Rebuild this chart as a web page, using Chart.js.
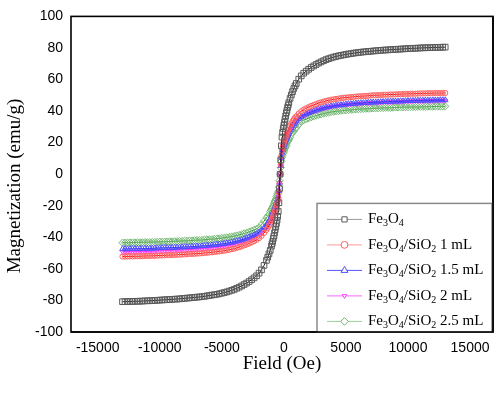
<!DOCTYPE html>
<html><head><meta charset="utf-8">
<script src="https://cdn.jsdelivr.net/npm/chart.js@4.4.1/dist/chart.umd.min.js"></script>
<style>html,body{margin:0;padding:0;background:#fff}#wrap{width:500px;height:393px;position:relative}</style>
</head><body><div id="wrap"><canvas id="c" width="500" height="393"></canvas></div>
<script>
// Applied field (Oe)
const fieldOe = [-13000,-12800,-12600,-12400,-12200,-12000,-11800,-11600,-11400,-11200,-11000,-10800,-10600,-10400,-10200,-10000,-9800,-9600,-9400,-9200,-9000,-8800,-8600,-8400,-8200,-8000,-7800,-7600,-7400,-7200,-7000,-6800,-6600,-6400,-6200,-6000,-5800,-5600,-5400,-5200,-5000,-4800,-4600,-4400,-4200,-4000,-3800,-3600,-3400,-3200,-3000,
-2800,-2600,-2400,-2200,-2000,-1800,-1600,-1400,
-1300,-1200,-1100,-1000,
-950,-900,-850,-800,-750,-700,-650,-600,-550,-500,-450,-400,-350,-300,-250,-200,-150,-100,-50,0,50,100,150,200,250,300,350,
400,500,600,700,800,900,1000,
1200,1400,1600,1800,2000,2200,2400,2600,2800,
3000,3200,3400,3600,3800,4000,4200,4400,4600,4800,5000,5200,5400,5600,5800,6000,6200,6400,6600,6800,7000,7200,7400,7600,7800,8000,8200,8400,8600,8800,9000,9200,9400,9600,9800,10000,10200,10400,10600,10800,11000,11200,11400,11600,11800,12000,12200,12400,12600,12800,13000];

// Magnetization (emu/g)
const magFe3O4 = [-80.8,-80.8,-80.7,-80.7,-80.6,-80.6,-80.5,-80.5,-80.4,-80.3,-80.2,-80.2,-80.1,-80.0,-79.9,-79.8,-79.7,-79.6,-79.5,-79.4,-79.3,-79.2,-79.1,-79.0,-78.8,-78.7,-78.5,-78.4,-78.2,-78.1,-77.9,-77.8,-77.6,-77.4,-77.1,-76.9,-76.6,-76.4,-76.1,-75.8,-75.4,-75.0,-74.6,-74.1,-73.6,-73.0,-72.3,-71.6,-70.8,-69.9,-69.0,
-68.0,-66.9,-65.7,-64.4,-62.7,-60.6,-57.8,-54.6,
-52.6,-50.5,-48.3,-45.6,
-44.1,-42.6,-40.7,-39.2,-37.2,-35.2,-33.2,-31.2,-29.2,-26.7,-23.6,-18.1,-9.1,0,9,18,23.5,26.5,29,31,33,35,37,39,40.5,42.3,43.8,
45.3,48,50.2,52.3,54.3,56,57.5,
60.2,62.3,64,65.3,66.5,67.6,68.6,69.5,70.4,
71.2,71.9,72.6,73.2,73.7,74.2,74.6,75.0,75.3,75.6,75.9,76.2,76.4,76.7,76.9,77.1,77.3,77.5,77.6,77.8,77.9,78.1,78.2,78.4,78.5,78.6,78.7,78.8,78.9,79.0,79.1,79.2,79.3,79.4,79.5,79.6,79.7,79.8,79.8,79.9,80.0,80.1,80.1,80.2,80.2,80.3,80.3,80.4,80.4,80.5,80.5];

const magSiO2_1 = [-52.2,-52.2,-52.1,-52.1,-52.1,-52.0,-52.0,-52.0,-51.9,-51.8,-51.8,-51.8,-51.7,-51.7,-51.6,-51.5,-51.5,-51.4,-51.3,-51.3,-51.2,-51.2,-51.0,-51.0,-50.9,-50.8,-50.7,-50.6,-50.5,-50.4,-50.3,-50.2,-50.1,-49.9,-49.8,-49.6,-49.5,-49.3,-49.1,-48.9,-48.7,-48.5,-48.2,-47.9,-47.5,-47.2,-46.7,-46.2,-45.8,-45.1,-44.6,
-43.9,-43.2,-42.4,-41.6,-40.5,-39.1,-37.3,-35.3,
-34.0,-32.6,-31.2,-29.4,
-28.5,-27.5,-26.3,-25.3,-24.1,-22.8,-21.4,-20.1,-18.8,-17.2,-15.3,-11.7,-5.9,0,5.8,11.5,15.0,16.9,18.5,19.8,21.1,22.4,23.7,24.9,25.9,27.0,28.0,
29.0,30.7,32.1,33.5,34.8,35.8,36.8,
38.5,39.9,40.9,41.8,42.5,43.3,43.9,44.4,45.1,
45.5,46.0,46.5,46.8,47.2,47.4,47.7,47.9,48.2,48.4,48.6,48.7,48.9,49.0,49.2,49.3,49.4,49.5,49.6,49.7,49.9,50.0,50.0,50.1,50.2,50.3,50.4,50.4,50.5,50.5,50.6,50.7,50.7,50.8,50.9,50.9,51.0,51.0,51.0,51.1,51.2,51.2,51.2,51.3,51.3,51.3,51.4,51.4,51.4,51.4,51.5];

const magSiO2_15 = [-47.4,-47.4,-47.4,-47.3,-47.3,-47.3,-47.2,-47.2,-47.2,-47.1,-47.1,-47.0,-47.0,-46.9,-46.8,-46.8,-46.7,-46.7,-46.6,-46.6,-46.5,-46.5,-46.4,-46.3,-46.2,-46.1,-46.1,-46.0,-45.9,-45.8,-45.7,-45.6,-45.5,-45.4,-45.2,-45.1,-44.9,-44.8,-44.6,-44.4,-44.2,-44.0,-43.7,-43.5,-43.2,-42.8,-42.4,-42.0,-41.6,-41.0,-40.5,
-39.9,-39.2,-38.5,-37.8,-36.8,-35.5,-33.9,-32.1,
-30.9,-29.6,-28.3,-26.7,
-25.8,-24.9,-23.9,-23.0,-21.9,-20.7,-19.5,-18.3,-17.1,-15.6,-13.9,-10.6,-5.3,0,5.3,10.5,13.7,15.5,16.9,18.1,19.3,20.4,21.6,22.7,23.6,24.7,25.6,
26.5,28.0,29.3,30.6,31.7,32.7,33.6,
35.2,36.4,37.4,38.1,38.8,39.5,40.0,40.6,41.1,
41.5,42.0,42.4,42.7,43.1,43.3,43.6,43.8,43.9,44.1,44.3,44.5,44.6,44.7,44.9,45.0,45.1,45.2,45.3,45.4,45.5,45.6,45.6,45.7,45.8,45.9,46.0,46.0,46.1,46.1,46.2,46.2,46.3,46.3,46.4,46.5,46.5,46.6,46.6,46.7,46.7,46.7,46.8,46.8,46.8,46.9,46.9,46.9,47.0,47.0,47.0];

const magSiO2_2 = [-49.2,-49.2,-49.2,-49.1,-49.1,-49.1,-49.0,-49.0,-49.0,-48.9,-48.9,-48.8,-48.8,-48.7,-48.6,-48.6,-48.5,-48.5,-48.4,-48.3,-48.3,-48.2,-48.1,-48.1,-48.0,-47.9,-47.8,-47.7,-47.6,-47.5,-47.4,-47.3,-47.2,-47.1,-46.9,-46.8,-46.6,-46.5,-46.3,-46.1,-45.9,-45.7,-45.4,-45.2,-44.8,-44.5,-44.0,-43.6,-43.1,-42.5,-42.0,
-41.4,-40.7,-40.0,-39.2,-38.2,-36.9,-35.2,-33.3,
-32.0,-30.8,-29.4,-27.8,
-26.8,-25.9,-24.8,-23.9,-22.7,-21.4,-20.2,-19.0,-17.7,-16.2,-14.4,-11.0,-5.5,0,5.2,10.5,13.6,15.4,16.8,18.0,19.1,20.3,21.5,22.6,23.5,24.5,25.4,
26.3,27.8,29.1,30.4,31.5,32.5,33.3,
34.9,36.1,37.1,37.9,38.6,39.2,39.8,40.3,40.9,
41.3,41.7,42.1,42.5,42.8,43.0,43.3,43.5,43.7,43.9,44.0,44.2,44.3,44.5,44.6,44.7,44.8,44.9,45.0,45.1,45.2,45.3,45.3,45.4,45.5,45.6,45.7,45.7,45.8,45.8,45.9,46.0,46.0,46.0,46.1,46.2,46.2,46.3,46.3,46.4,46.4,46.4,46.5,46.5,46.5,46.6,46.6,46.6,46.7,46.7,46.7];

const magSiO2_25 = [-43.4,-43.4,-43.4,-43.3,-43.3,-43.3,-43.2,-43.2,-43.2,-43.1,-43.1,-43.1,-43.0,-43.0,-42.9,-42.8,-42.8,-42.8,-42.7,-42.6,-42.6,-42.5,-42.5,-42.4,-42.3,-42.2,-42.2,-42.1,-42.0,-41.9,-41.8,-41.8,-41.7,-41.5,-41.4,-41.3,-41.2,-41.0,-40.8,-40.7,-40.5,-40.3,-40.1,-39.8,-39.5,-39.2,-38.8,-38.5,-38.1,-37.5,-37.1,
-36.5,-35.9,-35.3,-34.6,-33.7,-31.9,-29.8,-27.6,
-26.6,-25.5,-23.6,-22.3,
-21.5,-20.8,-19.9,-18.5,-17.6,-16.7,-15.7,-14.2,-13.3,-12.2,-10.8,-8.3,-4.1,0,4.1,8.2,10.7,12.0,13.2,14.1,15.5,16.5,17.4,18.3,19.7,20.6,21.3,
22.0,23.3,25.2,26.3,27.3,28.7,29.5,
31.5,33.3,34.2,34.9,35.5,36.1,36.6,37.1,37.6,
38.0,38.4,38.8,39.1,39.4,39.6,39.9,40.0,40.2,40.4,40.5,40.7,40.8,40.9,41.1,41.2,41.3,41.4,41.5,41.5,41.6,41.7,41.8,41.8,41.9,42.0,42.1,42.1,42.1,42.2,42.3,42.3,42.4,42.4,42.5,42.5,42.6,42.6,42.6,42.7,42.7,42.7,42.8,42.8,42.8,42.9,42.9,42.9,43.0,43.0,43.0];

const seriesNames = ['Fe₃O₄','Fe₃O₄/SiO₂ 1 mL','Fe₃O₄/SiO₂ 1.5 mL','Fe₃O₄/SiO₂ 2 mL','Fe₃O₄/SiO₂ 2.5 mL'];
const xTickValues = [-15000,-10000,-5000,0,5000,10000,15000];
const yTickValues = [-100,-80,-60,-40,-20,0,20,40,60,80,100];
const xTitle = 'Field (Oe)';
const yTitle = 'Magnetization (emu/g)';

const seriesValues = [magFe3O4, magSiO2_1, magSiO2_15, magSiO2_2, magSiO2_25];
const styles = [
  {pointStyle:'rect',    radius:4,   rot:0,   mark:'#5a5a5a', line:'#1a1a1a', legLine:'#9a9a9a', legR:2.6},
  {pointStyle:'circle',  radius:2.6, rot:0,   mark:'#ff6060', line:'#ff0000', legLine:'#ff9a9a', legR:3.4},
  {pointStyle:'triangle',radius:3.3, rot:0,   mark:'#5050ff', line:'#0000ee', legLine:'#5555ff', legR:4},
  {pointStyle:'triangle',radius:2.6, rot:180, mark:'#ff40ff', line:'#ee00ee', legLine:'#ff66ff', legR:2.6},
  {pointStyle:'rectRot', radius:3.6, rot:0,   mark:'#72b872', line:'#2a8a2a', legLine:'#9ccc9c', legR:3.8}
];

function drawMark(ctx, style, x, y, r, rot){
  ctx.beginPath();
  if (style === 'rect') { ctx.rect(x - r, y - r, 2*r, 2*r); }
  else if (style === 'circle') { ctx.arc(x, y, r, 0, Math.PI*2); }
  else if (style === 'rectRot') { ctx.moveTo(x - r, y); ctx.lineTo(x, y - r); ctx.lineTo(x + r, y); ctx.lineTo(x, y + r); ctx.closePath(); }
  else if (style === 'triangle') {
    const s = rot === 180 ? -1 : 1;
    ctx.moveTo(x, y - s*r); ctx.lineTo(x + 0.866*r, y + s*0.5*r); ctx.lineTo(x - 0.866*r, y + s*0.5*r); ctx.closePath();
  }
  ctx.fill(); ctx.stroke();
}

const SUBS = '₀₁₂₃₄₅₆₇₈₉';
function drawSubText(ctx, text, x, y){
  const main = '15px "Liberation Serif", "Times New Roman", serif';
  const sub = '10px "Liberation Serif", "Times New Roman", serif';
  ctx.textAlign = 'left'; ctx.textBaseline = 'middle'; ctx.fillStyle = '#000';
  for (const ch of text) {
    const idx = SUBS.indexOf(ch);
    if (idx >= 0) { ctx.font = sub; const d = String(idx); ctx.fillText(d, x, y + 4); x += ctx.measureText(d).width; }
    else { ctx.font = main; ctx.fillText(ch, x, y); x += ctx.measureText(ch).width; }
  }
}

const framePlugin = {
  id: 'frameAndLegend',
  afterDatasetsDraw(chart){
    const ctx = chart.ctx, a = chart.chartArea;
    ctx.save();
    ctx.strokeStyle = '#000'; ctx.lineWidth = 1.6;
    ctx.strokeRect(a.left, a.top, a.right - a.left, a.bottom - a.top);
    const bx = a.right - 176, by = a.top + 187, bw = 175, bh = a.bottom - by;
    ctx.fillStyle = '#fff'; ctx.fillRect(bx, by, bw, bh);
    ctx.strokeStyle = '#8a8a8a'; ctx.lineWidth = 1.5; ctx.strokeRect(bx, by, bw, bh);
    ctx.strokeStyle = '#000'; ctx.lineWidth = 1.6;
    ctx.beginPath(); ctx.moveTo(a.left, a.bottom); ctx.lineTo(a.right, a.bottom); ctx.lineTo(a.right, a.top); ctx.stroke();
    seriesNames.forEach((name, i) => {
      const st = styles[i];
      const y = by + 16 + i * 25.5;
      const x0 = bx + 10, x1 = bx + 45, xm = (x0 + x1) / 2;
      ctx.strokeStyle = st.legLine; ctx.lineWidth = 1;
      ctx.beginPath(); ctx.moveTo(x0, y); ctx.lineTo(x1, y); ctx.stroke();
      ctx.strokeStyle = st.mark; ctx.fillStyle = '#fff';
      drawMark(ctx, st.pointStyle, xm, y, st.legR, st.rot);
      drawSubText(ctx, name, bx + 51, y);
    });
    ctx.save();
    ctx.translate(15, 186);
    ctx.rotate(-Math.PI / 2);
    ctx.font = '19px "Liberation Serif", "Times New Roman", serif';
    ctx.fillStyle = '#000'; ctx.textAlign = 'center'; ctx.textBaseline = 'middle';
    ctx.fillText(yTitle, 0, 0);
    ctx.restore();
    ctx.restore();
  }
};

const datasets = seriesValues.map((vals, i) => ({
  label: seriesNames[i],
  data: fieldOe.map((h, k) => ({x: h, y: vals[k]})),
  showLine: true,
  tension: 0,
  borderColor: styles[i].line,
  borderWidth: 1,
  pointStyle: styles[i].pointStyle,
  pointRadius: styles[i].radius,
  pointRotation: styles[i].rot,
  pointBorderColor: styles[i].mark,
  pointBackgroundColor: 'rgba(255,255,255,0)',
  pointBorderWidth: 1
}));

const tickFont = {family: '"Liberation Sans", Arial, sans-serif', size: 14};

new Chart(document.getElementById('c'), {
  type: 'line',
  data: {datasets},
  options: {
    responsive: false,
    animation: false,
    events: [],
    devicePixelRatio: 1,
    layout: {padding: {top: 14, right: 7, left: 0, bottom: 0}},
    plugins: {legend: {display: false}, tooltip: {enabled: false}},
    scales: {
      x: {
        type: 'linear',
        min: -17150, max: 16850,
        grid: {display: false, drawTicks: false},
        border: {display: false},
        afterBuildTicks: s => { s.ticks = xTickValues.map(v => ({value: v})); },
        afterFit: s => { s.height = 61; },
        ticks: {font: tickFont, color: '#000', padding: 8, maxRotation: 0, autoSkip: false, callback: v => String(v)},
        title: {display: true, text: xTitle, color: '#000', font: {family: '"Liberation Serif", "Times New Roman", serif', size: 19}, padding: {top: 0, bottom: 18}}
      },
      y: {
        type: 'linear',
        min: -100, max: 100,
        grid: {display: false, drawTicks: false},
        border: {display: false},
        afterBuildTicks: s => { s.ticks = yTickValues.map(v => ({value: v})); },
        afterFit: s => { s.width = 71; },
        ticks: {font: tickFont, color: '#000', padding: 8, autoSkip: false, callback: v => String(v)}
      }
    }
  },
  plugins: [framePlugin]
});
</script>
</body></html>
